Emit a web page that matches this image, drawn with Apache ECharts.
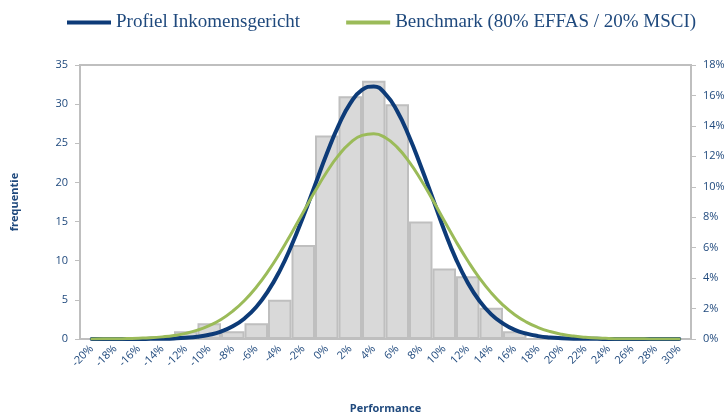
<!DOCTYPE html>
<html>
<head>
<meta charset="utf-8">
<script src="https://cdn.jsdelivr.net/npm/echarts@6/dist/echarts.min.js"></script>
<style>
  html, body { margin: 0; padding: 0; background: #fff; }
  #chart { width: 727px; height: 414px; }
</style>
</head>
<body>
<div id="chart"></div>
<script>
// histogram classes (performance buckets)
var categories = ['-20%', '-18%', '-16%', '-14%', '-12%', '-10%', '-8%', '-6%', '-4%', '-2%', '0%', '2%', '4%',
  '6%', '8%', '10%', '12%', '14%', '16%', '18%', '20%', '22%', '24%', '26%', '28%', '30%'];
var frequentie = [0, 0, 0, 0, 1, 2, 1, 2, 5, 12, 26, 31, 33, 30, 15, 9, 8, 4, 1, 0, 0, 0, 0, 0, 0, 0];

// curve points (x in %, y in %)
var curveX = [-20, -19, -18, -17, -16, -15, -14, -13, -12, -11, -10, -9, -8, -7, -6, -5, -4, -3, -2, -1, 0,
  1, 2, 3, 4, 5, 6, 7, 8, 9, 10, 11, 12, 13, 14, 15, 16, 17, 18, 19, 20,
  21, 22, 23, 24, 25, 26, 27, 28, 29, 30];
var profiel = [0, 0, 0, 0, 0, 0.01, 0.02, 0.04, 0.08, 0.15, 0.28, 0.49, 0.83, 1.35, 2.10, 3.14, 4.48, 6.14, 8.05, 10.11, 12.17,
  14.02, 15.48, 16.37, 16.59, 16.09, 14.96, 13.32, 11.36, 9.28, 7.15, 5.25, 3.70, 2.50, 1.62, 1.02, 0.60, 0.35, 0.19, 0.10, 0.05,
  0.02, 0.01, 0.01, 0, 0, 0, 0, 0, 0, 0];
var benchmark = [0, 0.01, 0.01, 0.03, 0.05, 0.08, 0.14, 0.23, 0.37, 0.58, 0.88, 1.28, 1.83, 2.53, 3.40, 4.44, 5.63, 6.95, 8.33, 9.70, 10.97,
  12.06, 12.89, 13.38, 13.49, 13.22, 12.59, 11.65, 10.48, 9.16, 7.77, 6.41, 5.14, 4.00, 3.03, 2.23, 1.59, 1.11, 0.75, 0.49, 0.31,
  0.19, 0.12, 0.07, 0.04, 0.02, 0.01, 0.01, 0, 0, 0];

var leftTicks = [0, 5, 10, 15, 20, 25, 30, 35];
var rightTicks = [0, 2, 4, 6, 8, 10, 12, 14, 16, 18];

function pairs(xs, ys) {
  var out = [];
  for (var i = 0; i < xs.length; i++) out.push([xs[i], ys[i]]);
  return out;
}

var txt = '#1f497d';
var grey = '#bfbfbf';

var chart = echarts.init(document.getElementById('chart'));
chart.setOption({
  animation: false,
  legend: {
    top: 8,
    left: 62,
    itemWidth: 44,
    itemHeight: 4,
    itemGap: 46,
    icon: 'rect',
    textStyle: { fontFamily: 'Liberation Serif', fontSize: 19, color: txt },
    data: [
      { name: 'Profiel Inkomensgericht', itemStyle: { color: '#0d3b78' } },
      { name: 'Benchmark (80% EFFAS / 20% MSCI)', itemStyle: { color: '#9bbb59' } }
    ]
  },
  grid: {
    left: 80, right: 36, top: 65, bottom: 75,
    outerBoundsMode: 'none',
    show: true, borderColor: grey, borderWidth: 2
  },
  xAxis: [{
    type: 'category',
    data: categories,
    name: 'Performance',
    nameLocation: 'middle',
    nameGap: 64,
    nameTextStyle: { fontFamily: 'Open Sans', fontSize: 11, fontWeight: 'bold', color: txt },
    axisLine: { lineStyle: { color: grey, width: 2 } },
    axisTick: { lineStyle: { color: grey }, length: 5 },
    axisLabel: { rotate: 45, margin: 8, fontFamily: 'Open Sans', fontSize: 11, color: txt }
  }, {
    type: 'value',
    min: -21,
    max: 31,
    show: false
  }],
  yAxis: [{
    type: 'value',
    min: leftTicks[0],
    max: leftTicks[leftTicks.length - 1],
    interval: 5,
    name: 'frequentie',
    nameLocation: 'middle',
    nameGap: 60,
    nameTextStyle: { fontFamily: 'Open Sans', fontSize: 11, fontWeight: 'bold', color: txt },
    splitLine: { show: false },
    axisLine: { show: true, onZero: false, lineStyle: { color: grey, width: 2 } },
    axisTick: { show: true, length: 5, lineStyle: { color: grey } },
    axisLabel: { margin: 12, fontFamily: 'Open Sans', fontSize: 11, color: txt }
  }, {
    type: 'value',
    min: rightTicks[0],
    max: rightTicks[rightTicks.length - 1],
    interval: 2,
    position: 'right',
    splitLine: { show: false },
    axisLine: { show: true, onZero: false, lineStyle: { color: grey, width: 2 } },
    axisTick: { show: true, length: 5, lineStyle: { color: grey } },
    axisLabel: { margin: 12, fontFamily: 'Open Sans', fontSize: 11, color: txt, formatter: '{value}%' }
  }],
  series: [{
    name: 'frequentie',
    type: 'bar',
    data: frequentie,
    barCategoryGap: '0%',
    itemStyle: { color: '#d9d9d9', borderColor: grey, borderWidth: 2 },
    z: 1
  }, {
    name: 'Profiel Inkomensgericht',
    type: 'line',
    xAxisIndex: 1,
    yAxisIndex: 1,
    data: pairs(curveX, profiel),
    smooth: true,
    showSymbol: false,
    symbol: 'none',
    lineStyle: { color: '#0d3b78', width: 4, cap: 'round' },
    itemStyle: { color: '#0d3b78' },
    z: 3
  }, {
    name: 'Benchmark (80% EFFAS / 20% MSCI)',
    type: 'line',
    xAxisIndex: 1,
    yAxisIndex: 1,
    data: pairs(curveX, benchmark),
    smooth: true,
    showSymbol: false,
    symbol: 'none',
    lineStyle: { color: '#9bbb59', width: 3, cap: 'round' },
    itemStyle: { color: '#9bbb59' },
    z: 4
  }]
});
window.addEventListener('resize', chart.resize);
</script>
</body>
</html>
